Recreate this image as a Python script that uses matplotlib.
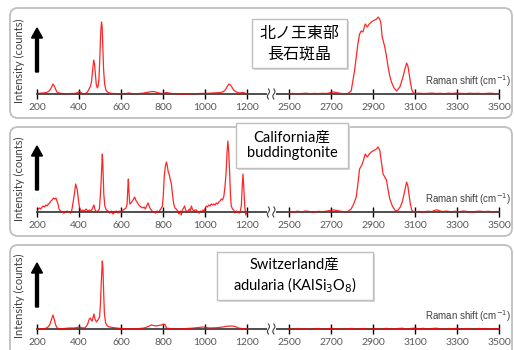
import matplotlib
matplotlib.use('Agg')
import matplotlib.pyplot as plt
from matplotlib.patches import FancyBboxPatch, Rectangle
import numpy as np

plt.rcParams['font.family'] = ['Lato', 'Noto Sans CJK JP', 'DejaVu Sans']

W, H = 514, 350

# ---------------------------------------------------------------
# Data (intensity in arbitrary units)
# ---------------------------------------------------------------
left_ticks = [200, 400, 600, 800, 1000, 1200]
right_ticks = [2500, 2700, 2900, 3100, 3300, 3500]
titles = ["北ノ王東部\n長石斑晶",
          "California産\nbuddingtonite",
          "Switzerland産\nadularia (KAlSi$_3$O$_8$)"]

# 北ノ王東部 feldspar phenocryst
kita_lo_wn = [200, 215, 230, 245, 255, 262, 270, 276, 282, 288,
              295, 305, 320, 340, 360, 380, 395, 402, 410, 420,
              430, 440, 448, 455, 460, 465, 470, 474, 478, 482,
              487, 491, 495, 499, 503, 507, 510, 513, 517, 522,
              528, 535, 545, 560, 580, 600, 620, 640, 650, 665,
              685, 705, 720, 735, 748, 760, 772, 785, 800, 815,
              825, 840, 860, 880, 900, 925, 950, 975, 1000, 1020,
              1040, 1060, 1075, 1088, 1098, 1106, 1114, 1121, 1128, 1136,
              1145, 1155, 1165, 1175, 1183, 1192, 1200]
kita_lo_int = [0.5, 0.8, 1, 1.5, 2.5, 4, 7, 10, 8, 5,
               2, 1, 0.5, 0.3, 0.5, 0.5, 1.5, 2.5, 1.5, 0,
               0.5, 2, 5, 8, 13, 24, 34, 30, 20, 10,
               6, 8, 15, 35, 60, 72, 68, 50, 25, 10,
               4, 2, 1, 0.5, 0.3, 0.3, 0.5, 1, 0.5, 0.3,
               0.5, 0.8, 1.5, 2, 2.5, 2.3, 1.5, 0.8, 0.5, 1.5,
               1.2, 0.5, 0.3, 0, 0, 0.2, 0.3, 0.5, 0.6, 0.8,
               1, 1.3, 1.5, 2.5, 4.5, 7.5, 10, 9, 7, 4,
               2.5, 1.5, 1, 1.3, 1.5, 0.8, 0.3]
kita_hi_wn = [2500, 2520, 2540, 2560, 2580, 2600, 2620, 2640, 2660, 2680,
              2700, 2712, 2725, 2740, 2760, 2780,
              2796, 2812, 2828, 2836, 2844, 2852, 2863, 2873, 2882, 2892,
              2908, 2918, 2924, 2932, 2938, 2943, 2950, 2956, 2964, 2972,
              2980, 2988, 3000, 3012, 3028, 3044, 3052, 3060, 3066, 3071,
              3078, 3084, 3092, 3100,
              3120, 3140, 3160, 3180, 3200, 3220, 3240, 3260, 3280, 3300,
              3320, 3340, 3360, 3380, 3400, 3420, 3440, 3460, 3480, 3500]
kita_hi_int = [0.3, 0.6, 0.2, 0.5, 0.8, 0.3, 0.6, 0.4, 0.7, 0.5,
               1.5, 2, 1.5, 0.8, 0.3, 0.5,
               3, 23, 50, 60, 63, 62, 70, 67, 70, 72,
               74, 75, 77, 75, 70, 58, 52, 47, 38, 27,
               18, 12, 6, 3, 7, 18, 25, 31, 28, 22,
               12, 5, 1, 0.5,
               0.8, 0.4, 0.6, 0.9, 0.5, 0.7, 0.3, 0.8, 0.5, 1,
               0.6, 0.4, 0.8, 0.5, 0.7, 0.3, 0.6, 0.8, 0.4, 0.5]

# California buddingtonite
cal_lo_wn = [200, 206, 212, 218, 224, 230, 236, 242, 248, 254,
             260, 266, 272, 278, 284, 290, 295, 300, 305, 312,
             320, 328, 336, 344, 352, 360, 366, 372, 378, 384,
             388, 392, 397, 403, 410, 418, 426, 434, 442, 450,
             458, 465, 471, 477, 483, 490, 497, 503, 508, 511,
             514, 518, 523, 530, 538, 546, 554, 562, 570, 578,
             586, 594, 602, 610, 617, 624, 629, 632, 635, 638,
             642, 648, 654, 660, 665, 670, 676, 682, 689, 696,
             704, 710, 716, 722, 729, 734, 740, 748, 756, 764,
             772, 780, 786, 792, 797, 801, 806, 811, 816, 820,
             825, 829, 834, 840, 845, 851, 857, 863, 870, 876,
             882, 887, 892, 898, 903, 908, 914, 919, 925, 930,
             935, 940, 946, 952, 959, 966, 972, 978, 983, 990,
             996, 1002, 1006, 1012, 1018, 1024, 1030, 1036, 1042, 1048,
             1054, 1060, 1066, 1072, 1078, 1084, 1090, 1095, 1101, 1105,
             1109, 1113, 1117, 1121, 1125, 1131, 1137, 1143, 1150, 1157,
             1163, 1168, 1173, 1177, 1181, 1185, 1190, 1194, 1198, 1200]
cal_lo_int = [1, 3, 4, 3, 5, 6, 5, 7, 6, 8,
              9, 11, 12, 14, 13, 14, 11, 8, 3, 1,
              0, -1, 0, 1, 0, -1, 2, 10, 18, 28,
              25, 22, 12, 4, 1, 2, 1, 3, 1, 2,
              1, 4, 7, 2, 0, 1, 3, 20, 45, 58,
              45, 18, 6, 2, 1, -1, 1, -2, 0, 1,
              -1, 1, 0, 2, 3, 4, 8, 22, 33, 20,
              8, 9, 11, 13, 15, 12, 10, 8, 6, 5,
              4, 5, 3, 6, 9, 6, 3, 1, 0, -1,
              1, 0, 2, 4, 6, 15, 36, 45, 50, 47,
              40, 38, 33, 28, 18, 8, 4, 3, 1, -2,
              1, -3, 2, 4, 6, 2, 0, 1, 3, 1,
              6, 3, 1, 2, 2, 0, -1, 1, 0, 2,
              1, 4, 6, 5, 7, 6, 8, 7, 8, 7,
              9, 8, 10, 11, 13, 12, 16, 25, 41, 60,
              71, 60, 41, 18, 6, 3, 2, -1, 1, 0,
              -1, 1, 6, 25, 38, 22, 4, -3, -1, 0]
cal_hi_wn = [2500, 2520, 2540, 2560, 2580, 2600, 2620, 2640, 2660, 2680,
             2700, 2712, 2725, 2740, 2760, 2780, 2796, 2808, 2820, 2828,
             2836, 2847, 2855, 2863, 2873, 2882, 2892, 2900, 2908, 2916,
             2924, 2932, 2940, 2948, 2956, 2964, 2972, 2980, 2992, 3004,
             3012, 3020, 3030, 3039, 3048, 3055, 3060, 3066, 3071, 3078,
             3084, 3092, 3100, 3120, 3140, 3160, 3180, 3192, 3204, 3216,
             3230, 3250, 3270, 3290, 3310, 3330, 3350, 3370, 3390, 3410,
             3430, 3450, 3470, 3490, 3500]
cal_hi_int = [0.5, -0.3, 0.8, 0.2, 1, 0.4, -0.2, 0.7, 0.3, 0.9,
              1.8, 2, 1.6, 1, 0.3, 0.5, 3, 8, 15, 28,
              43, 47, 52, 58, 55, 58, 60, 61, 62, 63,
              65, 62, 50, 38, 35, 32, 22, 13, 6, 2,
              1, 2, 5, 10, 18, 25, 30, 26, 18, 8,
              2, 0.5, 0.3, 0.6, -0.2, 0.8, 0.4, 1.5, 2.2, 1.2,
              0.5, 0.9, 0.2, 0.7, 0.3, 1, 0.4, -0.2, 0.6, 0.8,
              0.3, 0.7, 0.1, 0.5, 0.4]

# Switzerland adularia
swi_lo_wn = [200, 220, 240, 252, 260, 268, 276, 283, 289, 296,
             305, 330, 356, 380, 400, 415, 427, 436, 443, 449,
             454, 458, 462, 466, 471, 476, 483, 490, 498, 502,
             506, 511, 514, 517, 521, 527, 535, 546, 560, 578,
             600, 641, 680, 710, 730, 744, 756, 768, 780, 792,
             805, 811, 816, 830, 863, 900, 950, 990, 1022, 1050,
             1086, 1105, 1125, 1145, 1157, 1180, 1200]
swi_lo_int = [0, 0.3, 0.5, 2, 4, 9, 14, 9, 4, 1,
              0.3, 0.5, 1, 1, 2, 1.2, 1, 3, 6, 10,
              11, 9, 8, 11, 15, 10, 7, 9, 12, 25,
              46, 68, 60, 39, 15, 6, 3, 2, 1.5, 1,
              0.5, 0, 0.3, 1, 2.5, 4, 3.5, 3, 3.5, 4,
              5, 4, 1, 0.5, 0, 0.3, 1, 2, 1, 1.2,
              2, 2.8, 3, 2.5, 1, 0.3, 0]
swi_hi_wn = [2500, 2520, 2540, 2560, 2580, 2600, 2620, 2640, 2660, 2680,
             2700, 2720, 2740, 2760, 2780, 2800, 2820, 2840, 2860, 2880,
             2900, 2920, 2940, 2960, 2980, 3000, 3020, 3040, 3060, 3080,
             3100, 3120, 3140, 3160, 3180, 3200, 3220, 3240, 3260, 3280,
             3300, 3320, 3340, 3360, 3380, 3400, 3420, 3440, 3460, 3480,
             3500]
swi_hi_int = [0.2, -0.5, 0.6, -0.3, 0.4, -0.6, 0.3, 0.5, -0.4, 0.2,
              0.6, -0.2, 0.4, -0.5, 0.3, 0.6, -0.3, 0.2, 0.5, -0.6,
              0.4, 0.1, -0.4, 0.6, 0.3, -0.2, 0.5, 0.8, -0.3, 0.6,
              0.9, 0.2, 0.7, -0.2, 0.5, 0.8, 0.3, -0.4, 0.6, 0.2,
              0.7, -0.3, 0.5, 0.3, -0.5, 0.6, 0.2, 0.4, -0.3, 0.5,
              0.2]

spectra = [
    (kita_lo_wn, kita_lo_int, kita_hi_wn, kita_hi_int),
    (cal_lo_wn, cal_lo_int, cal_hi_wn, cal_hi_int),
    (swi_lo_wn, swi_lo_int, swi_hi_wn, swi_hi_int),
]


def tx(w):
    """Map wavenumber onto the broken axis (1200 | gap | 2500)."""
    w = np.asarray(w, dtype=float)
    return np.where(w <= 1200, w, w - 2500 + 1400)


# ---------------------------------------------------------------
# Layout (pixel positions)
# ---------------------------------------------------------------
baselines = [94, 212, 329]
panel_boxes = [(10, 8, 512, 118), (10, 127, 512, 236), (10, 245, 512, 362)]
label_boxes = [(252, 19, 347, 68), (236, 123, 348, 168), (217, 252, 373, 300)]
title_fonts = [['Noto Sans CJK JP'], ['Lato', 'Noto Sans CJK JP'], ['Lato', 'Noto Sans CJK JP']]
title_sizes = [11.5, 10.5, 10.5]
title_spacing = [1.25, 1.15, 1.25]

fig = plt.figure(figsize=(W / 100, H / 100), dpi=100)

bg = fig.add_axes([0, 0, 1, 1], zorder=0)
bg.set_xlim(0, W)
bg.set_ylim(H, 0)
bg.axis('off')

ov = fig.add_axes([0, 0, 1, 1], zorder=5)
ov.set_xlim(0, W)
ov.set_ylim(H, 0)
ov.axis('off')

for i in range(3):
    x0, y0, x1, y1 = panel_boxes[i]
    bg.add_patch(FancyBboxPatch((x0, y0), x1 - x0, y1 - y0,
                                boxstyle='round,pad=0,rounding_size=8',
                                fc='white', ec='#bfbfbf', lw=1.3))

    yb = baselines[i]
    ax = fig.add_axes([37 / W, 1 - (yb + 6) / H, 462 / W, 86 / H], zorder=2)
    ax.patch.set_visible(False)
    ax.set_xlim(200, 2400)
    ax.set_ylim(-6, 80)

    lo_wn, lo_int, hi_wn, hi_int = spectra[i]
    ax.plot(tx(lo_wn), lo_int, color='#ff0000', lw=0.9, alpha=0.85, zorder=4)
    ax.plot(tx(hi_wn), hi_int, color='#ff0000', lw=0.9, alpha=0.85, zorder=4)

    for s in ['top', 'right', 'left']:
        ax.spines[s].set_visible(False)
    ax.spines['bottom'].set_position(('data', 0))
    ax.spines['bottom'].set_color('#404040')
    ax.spines['bottom'].set_linewidth(1.3)
    ax.spines['bottom'].set_bounds(200, 2400)
    ticks = left_ticks + right_ticks
    ax.set_xticks(tx(ticks))
    ax.set_xticklabels([str(t) for t in ticks])
    ax.tick_params(axis='x', direction='inout', length=7, width=1,
                   color='black', labelcolor='#595959', labelsize=7.5, pad=3)
    ax.set_yticks([])

    # axis break squiggle
    ax.add_patch(Rectangle((1296, -4), 40, 8, fc='white', ec='none',
                           zorder=3, clip_on=False))
    yy = np.linspace(-5, 5, 40)
    for xs in (1302, 1328):
        ax.plot(xs + 5 * np.sin(yy / 5 * np.pi), yy, color='#404040',
                lw=0.8, zorder=4, clip_on=False)

    # intensity arrow
    ax.arrow(200, 22, 0, 44, width=14, head_width=52, head_length=10,
             length_includes_head=True, fc='black', ec='black', zorder=5,
             clip_on=False)

    ov.text(511, yb - 13, 'Raman shift (cm$^{-1}$)', ha='right', va='center',
            fontsize=7, color='#404040', family=['Liberation Sans'])

    ov.text(19, yb - 33, 'Intensity (counts)', rotation=90, ha='center',
            va='center', fontsize=8, color='#404040')

    bx0, by0, bx1, by1 = label_boxes[i]
    ov.add_patch(Rectangle((bx0 + 1.5, by0 + 1.5), bx1 - bx0, by1 - by0,
                           fc='#d9d9d9', ec='none'))
    ov.add_patch(Rectangle((bx0, by0), bx1 - bx0, by1 - by0,
                           fc='white', ec='#bfbfbf', lw=1))
    ov.text((bx0 + bx1) / 2, (by0 + by1) / 2, titles[i], ha='center',
            va='center', fontsize=title_sizes[i], color='black',
            family=title_fonts[i], linespacing=title_spacing[i])

fig.savefig('out.png', dpi=100)
